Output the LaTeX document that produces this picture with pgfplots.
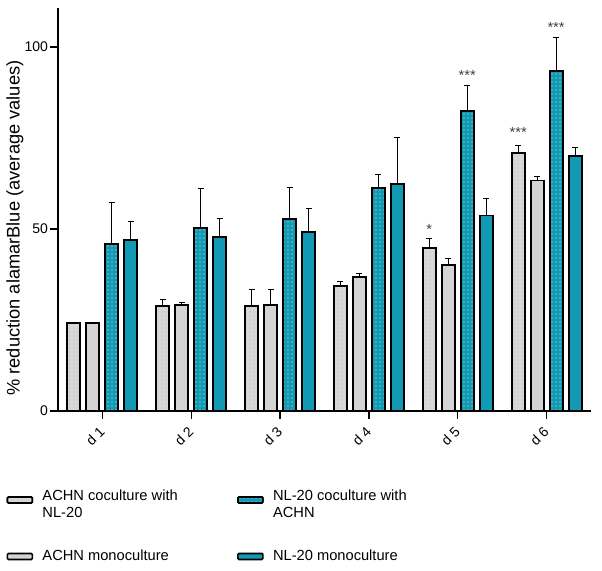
\documentclass[border=0pt]{standalone}
\usepackage{fontspec}
\setmainfont{Liberation Sans}
\usepackage{pgfplots}
\usepackage{pgfplotstable}
\pgfplotsset{compat=1.18}
\usetikzlibrary{calc,patterns.meta}

\definecolor{greybar}{HTML}{D4D4D4}
\definecolor{tealbar}{HTML}{1299B3}

% day, mean, upper error
\pgfplotstableread{
x y e
1 24.1 0.3
2 28.8 1.7
3 28.9 4.4
4 34.3 1.2
5 44.7 2.7
6 70.8 2.1
}\achncoc
\pgfplotstableread{
x y e
1 24.1 0.3
2 29.1 0.6
3 29.0 4.4
4 36.9 0.9
5 40.0 1.9
6 63.3 1.1
}\achnmono
\pgfplotstableread{
x y e
1 45.8 11.4
2 50.3 10.7
3 52.7 8.8
4 61.3 3.7
5 82.3 7.2
6 93.5 9.2
}\nlcoc
\pgfplotstableread{
x y e
1 47.0 5.1
2 47.8 5.2
3 49.1 6.4
4 62.4 12.8
5 53.7 4.6
6 70.0 2.3
}\nlmono

\begin{document}
\begin{tikzpicture}[font=\fontsize{10}{12}\selectfont]
\begin{axis}[
  scale only axis,
  width=399.75pt, height=302.25pt,
  xmin=0.5, xmax=6.5,
  ymin=0, ymax=110.7,
  axis lines*=left,
  axis line style={line width=1.1pt},
  tick style={line width=1.1pt, black},
  tick align=outside,
  major tick length=6pt,
  ytick={0,50,100},
  xtick={1,...,6},
  xticklabels={d 1,d 2,d 3,d 4,d 5,d 6},
  xticklabel style={xshift=-3pt, rotate=45, anchor=north east, font=\fontsize{10.5}{12}\selectfont},
  yticklabel style={xshift=2pt, font=\fontsize{10.5}{12}\selectfont},
  /pgf/number format/assume math mode=true,
  ylabel={\% reduction alamarBlue (average values)},
  ylabel style={at={(axis description cs:-0.081,0.454)}, anchor=center, font=\fontsize{13.7}{15}\selectfont},
  ybar=4.5pt,
  bar width=9.75pt,
  every axis plot/.append style={draw=black, line width=1.4pt},
  error bars/y dir=plus,
  error bars/y explicit,
  error bars/error mark options={rotate=90, mark size=2.2pt, line width=0.8pt, black},
  error bars/error bar style={line width=0.8pt, black},
  legend columns=2,
  transpose legend,
  legend cell align=left,
  legend style={draw=none, fill=none, inner sep=0pt,
    at={(axis description cs:-0.097,-0.185)}, anchor=north west,
    /tikz/every odd column/.append style={column sep=5pt},
    /tikz/every even column/.append style={column sep=42.5pt},
    row sep=25pt,
    font=\fontsize{11}{13}\selectfont},
  legend image code/.code={\draw[#1, line width=1.2pt, rounded corners=0.8pt] (0pt,-2.25pt) rectangle (18.75pt,2.25pt);},
]
\addplot[fill=greybar, postaction={pattern={Dots[radius=0.4pt,distance=3pt]}, pattern color=white!92!greybar}]
  table[x=x, y=y, y error=e] {\achncoc};
\addlegendentry{\begin{tabular}{@{}l@{}}ACHN coculture with\\NL-20\end{tabular}}
\addplot[fill=greybar]
  table[x=x, y=y, y error=e] {\achnmono};
\addlegendentry{ACHN monoculture}
\addplot[fill=tealbar, postaction={pattern={Dots[radius=0.4pt,distance=3pt]}, pattern color=white!85!tealbar}]
  table[x=x, y=y, y error=e] {\nlcoc};
\addlegendentry{\begin{tabular}{@{}l@{}}NL-20 coculture with\\ACHN\end{tabular}}
\addplot[fill=tealbar]
  table[x=x, y=y, y error=e] {\nlmono};
\addlegendentry{NL-20 monoculture}

\node[font=\fontsize{11}{12}\selectfont, text=black!75] at (axis cs:4.68,50.0) {*};
\node[font=\fontsize{11}{12}\selectfont, text=black!75] at (axis cs:5.107,92.2) {***};
\node[font=\fontsize{11}{12}\selectfont, text=black!75] at (axis cs:5.68,76.5) {***};
\node[font=\fontsize{11}{12}\selectfont, text=black!75] at (axis cs:6.107,105.3) {***};

\coordinate (bl) at (rel axis cs:0,0);
\coordinate (tr) at (rel axis cs:1,1);
\end{axis}
\pgfresetboundingbox
\path[use as bounding box] ($(bl)+(-43.5pt,-119.25pt)$) rectangle ($(tr)+(8.25pt,6pt)$);
\end{tikzpicture}
\end{document}
